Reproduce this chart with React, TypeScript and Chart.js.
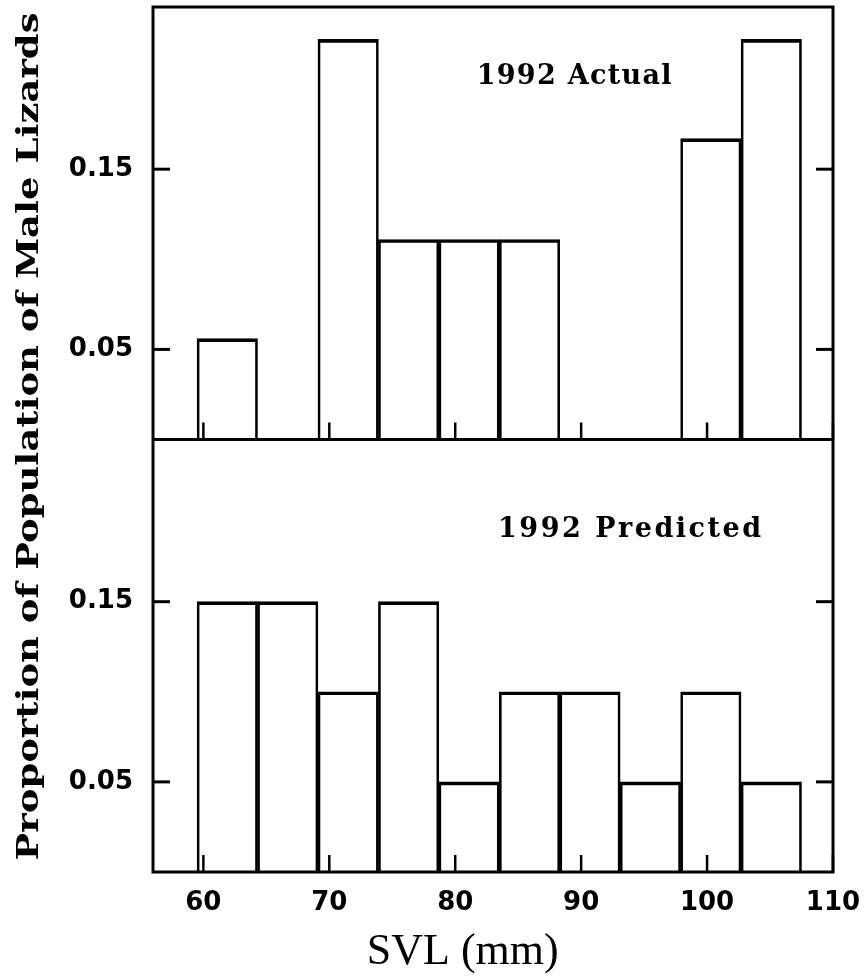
import React, { useEffect, useRef } from "react";
import { Chart, registerables } from "chart.js";

Chart.register(...registerables);

// SVL bin midpoints (mm), bins 4.8 mm wide
const binCenters = [61.9, 66.7, 71.5, 76.3, 81.1, 85.9, 90.7, 95.5, 100.3, 105.1];
// Proportion of male lizards per bin
const actual1992 = [0.056, 0, 0.222, 0.111, 0.111, 0.111, 0, 0, 0.167, 0.222];
const predicted1992 = [0.15, 0.15, 0.1, 0.15, 0.05, 0.1, 0.1, 0.05, 0.1, 0.05];

const xTickValues = [60, 70, 80, 90, 100, 110];
const yTickValues = [0.05, 0.15];

const panelLabels = ["1992 Actual", "1992 Predicted"];
const xTitle = "SVL (mm)";
const yTitle = "Proportion of Population of Male Lizards";

const TICK_LEN = 17;

function fillSpaced(ctx: any, text: string, x: number, y: number, target: number) {
  ctx.save();
  const natural = ctx.measureText(text).width;
  const n = Math.max(1, text.length - 1);
  if ("letterSpacing" in ctx) {
    ctx.letterSpacing = `${(target - natural) / n}px`;
    ctx.fillText(text, x, y);
  } else {
    ctx.translate(x, y);
    ctx.scale(target / natural, 1);
    ctx.fillText(text, 0, 0);
  }
  ctx.restore();
}

const framePlugin = {
  id: "frameAndNotes",
  afterDatasetsDraw(chart: any) {
    const { ctx, chartArea: a, scales } = chart;
    const x = scales.x;
    const yT = scales.yTop;
    const yB = scales.yBot;
    ctx.save();
    ctx.strokeStyle = "#000";
    ctx.lineCap = "butt";
    const line = (x1: number, y1: number, x2: number, y2: number, w: number) => {
      ctx.lineWidth = w;
      ctx.beginPath();
      ctx.moveTo(x1, y1);
      ctx.lineTo(x2, y2);
      ctx.stroke();
    };
    ctx.lineWidth = 3;
    ctx.strokeRect(a.left, a.top, a.right - a.left, a.bottom - a.top);
    const mid = yT.getPixelForValue(0);
    line(a.left, mid, a.right, mid, 3);
    for (const panel of [yT, yB]) {
      const base = panel.getPixelForValue(0);
      for (const t of panel.ticks) {
        const py = panel.getPixelForValue(t.value);
        line(a.left, py, a.left + TICK_LEN, py, 3);
        line(a.right - TICK_LEN, py, a.right, py, 3);
      }
      for (const t of x.ticks) {
        const px = x.getPixelForValue(t.value);
        line(px, base, px, base - TICK_LEN, 2.5);
      }
    }
    // panel labels
    ctx.fillStyle = "#000";
    ctx.font = 'bold 27px "DejaVu Serif"';
    ctx.textAlign = "left";
    ctx.textBaseline = "middle";
    fillSpaced(ctx, panelLabels[0], x.getPixelForValue(81.7), yT.getPixelForValue(0.201), 195);
    fillSpaced(ctx, panelLabels[1], x.getPixelForValue(83.4), yB.getPixelForValue(0.19), 263);
    // x title
    ctx.font = '44px "Liberation Serif"';
    ctx.textAlign = "center";
    ctx.textBaseline = "alphabetic";
    ctx.fillText(xTitle, x.getPixelForValue(80.6), a.bottom + 92);
    // y title
    ctx.font = 'bold 30px "DejaVu Serif"';
    const w = ctx.measureText(yTitle).width;
    const target = 848;
    ctx.translate(38, (a.top + a.bottom) / 2 - 3);
    ctx.rotate(-Math.PI / 2);
    ctx.scale(target / w, 1);
    ctx.textAlign = "center";
    ctx.textBaseline = "alphabetic";
    ctx.fillText(yTitle, 0, 0);
    ctx.restore();
  },
};

export default function App() {
  const ref = useRef<HTMLCanvasElement | null>(null);
  useEffect(() => {
    if (!ref.current) return;
    const tickFont = { family: "DejaVu Sans", weight: "bold" as const, size: 26 };
    const yScale = () => ({
      type: "linear" as const,
      position: "left" as const,
      stack: "panels",
      stackWeight: 1,
      min: 0,
      max: 0.24,
      grid: { display: false, drawTicks: false },
      border: { display: false },
      ticks: {
        font: tickFont,
        color: "#000",
        padding: 20,
        callback: (v: any) => Number(v).toFixed(2),
      },
      afterBuildTicks: (s: any) => {
        s.ticks = yTickValues.map((v) => ({ value: v }));
      },
      afterFit: (s: any) => {
        s.width = 153;
        s.paddingTop = 0;
        s.paddingBottom = 0;
      },
    });
    const barStyle = {
      backgroundColor: "rgba(255,255,255,0)",
      borderColor: "#000",
      borderWidth: { top: 3, left: 2, right: 2, bottom: 0 },
      barPercentage: 1,
      categoryPercentage: 1,
      grouped: false,
    };
    const chart = new Chart(ref.current, {
      type: "bar",
      data: {
        datasets: [
          {
            label: panelLabels[0],
            data: binCenters.map((c, i) => ({ x: c, y: actual1992[i] })),
            yAxisID: "yTop",
            ...barStyle,
          },
          {
            label: panelLabels[1],
            data: binCenters.map((c, i) => ({ x: c, y: predicted1992[i] })),
            yAxisID: "yBot",
            ...barStyle,
          },
        ],
      },
      options: {
        animation: false,
        responsive: false,
        devicePixelRatio: 1,
        layout: { padding: { top: 7, right: 32, left: 0, bottom: 0 } },
        plugins: { legend: { display: false }, tooltip: { enabled: false } },
        scales: {
          x: {
            type: "linear",
            position: "bottom",
            offset: false,
            min: 56,
            max: 110,
            grid: { display: false, drawTicks: false, offset: false },
            border: { display: false },
            ticks: { font: tickFont, color: "#000", padding: 16, maxRotation: 0 },
            afterBuildTicks: (s: any) => {
              s.ticks = xTickValues.map((v) => ({ value: v }));
            },
            afterFit: (s: any) => {
              s.height = 105;
              s.paddingLeft = 0;
              s.paddingRight = 0;
            },
          },
          yBot: yScale(),
          yTop: yScale(),
        },
      },
      plugins: [framePlugin],
    } as any);
    return () => chart.destroy();
  }, []);
  return (
    <div style={{ position: "absolute", left: 0, top: 0, width: 865, height: 977, background: "#fff" }}>
      <canvas ref={ref} width={865} height={977} />
    </div>
  );
}
